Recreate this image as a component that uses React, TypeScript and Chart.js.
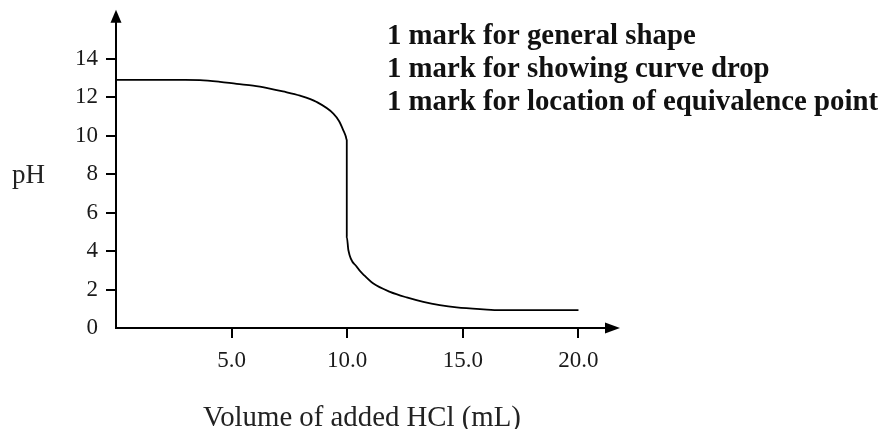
import React, { useEffect, useRef } from "react";
import { Chart, registerables } from "chart.js";

Chart.register(...registerables);

const volumes = [0, 3.0, 3.63, 4.5, 5.22, 5.93, 6.6, 7.22, 7.96, 8.68, 9.4, 9.65, 9.83, 9.94, 9.98, 9.98, 10.05, 10.41, 10.75, 11.13, 11.85, 12.57, 13.29, 14.0, 14.73, 15.89, 16.6, 18.5, 20];
const phValues = [12.9, 12.9, 12.89, 12.8, 12.69, 12.6, 12.46, 12.3, 12.08, 11.75, 11.15, 10.75, 10.28, 9.95, 9.76, 4.74, 4.04, 3.18, 2.72, 2.31, 1.88, 1.59, 1.36, 1.19, 1.07, 0.97, 0.93, 0.93, 0.93];

const xTickValues = [5, 10, 15, 20];
const yTickValues = [0, 2, 4, 6, 8, 10, 12, 14];
const notes = [
  "1 mark for general shape",
  "1 mark for showing curve drop",
  "1 mark for location of equivalence point",
];
const xTitle = "Volume of added HCl (mL)";
const yTitle = "pH";

const FONT = "'Liberation Serif', 'Times New Roman', serif";

const overlay = {
  id: "overlay",
  afterDraw(chart: any) {
    const { ctx, chartArea } = chart;
    ctx.save();
    ctx.fillStyle = "#000";
    // y-axis arrow
    const ax = chartArea.left;
    ctx.beginPath();
    ctx.moveTo(ax, chartArea.top - 12);
    ctx.lineTo(ax - 5.5, chartArea.top + 1);
    ctx.lineTo(ax + 5.5, chartArea.top + 1);
    ctx.closePath();
    ctx.fill();
    // x-axis arrow
    const ay = chartArea.bottom;
    ctx.beginPath();
    ctx.moveTo(chartArea.right + 14, ay);
    ctx.lineTo(chartArea.right - 1, ay - 5.5);
    ctx.lineTo(chartArea.right - 1, ay + 5.5);
    ctx.closePath();
    ctx.fill();

    // notes
    ctx.fillStyle = "#111";
    ctx.textBaseline = "alphabetic";
    ctx.textAlign = "left";
    ctx.font = `bold 28.8px ${FONT}`;
    notes.forEach((t, i) => {
      ctx.fillText(t, 387, 43.5 + i * 33.4);
    });

    // axis titles
    ctx.fillStyle = "#222";
    ctx.font = `27px ${FONT}`;
    ctx.fillText(yTitle, 12, 183);
    ctx.font = `28.8px ${FONT}`;
    ctx.textAlign = "center";
    ctx.fillText(xTitle, 362, 426);
    ctx.restore();
  },
};

export default function App() {
  const ref = useRef<HTMLCanvasElement | null>(null);
  useEffect(() => {
    if (!ref.current) return;
    const chart = new Chart(ref.current, {
      type: "line",
      data: {
        datasets: [
          {
            data: volumes.map((v, i) => ({ x: v, y: phValues[i] })),
            borderColor: "#000",
            borderWidth: 1.8,
            pointRadius: 0,
            cubicInterpolationMode: "monotone",
            fill: false,
          },
        ],
      },
      options: {
        animation: false,
        responsive: false,
        devicePixelRatio: 1,
        layout: { padding: { top: 21, right: 884 - 606, left: 0, bottom: 0 } },
        plugins: { legend: { display: false }, tooltip: { enabled: false }, title: { display: false } },
        scales: {
          x: {
            type: "linear",
            min: 0,
            max: 21.19,
            afterBuildTicks: (s: any) => {
              s.ticks = xTickValues.map((v) => ({ value: v }));
            },
            afterFit: (s: any) => {
              s.height = 429 - 328;
            },
            border: { display: true, color: "#000", width: 2 },
            grid: { drawOnChartArea: false, drawTicks: true, tickLength: 10, color: "#000", lineWidth: 2 },
            ticks: {
              padding: 9,
              color: "#1a1a1a",
              font: { family: FONT, size: 23 },
              maxRotation: 0,
              autoSkip: false,
              callback: (v: any) => Number(v).toFixed(1),
            },
          },
          y: {
            type: "linear",
            min: 0,
            max: 15.92,
            afterBuildTicks: (s: any) => {
              s.ticks = yTickValues.map((v) => ({ value: v }));
            },
            afterFit: (s: any) => {
              s.width = 116;
            },
            border: { display: true, color: "#000", width: 2 },
            grid: {
              drawOnChartArea: false,
              drawTicks: true,
              tickLength: 10,
              lineWidth: 2,
              color: (c: any) => (c.tick && c.tick.value === 0 ? "rgba(0,0,0,0)" : "#000"),
            },
            ticks: {
              padding: 8,
              color: "#1a1a1a",
              font: { family: FONT, size: 23 },
              autoSkip: false,
              callback: (v: any) => String(v),
            },
          },
        },
      },
      plugins: [overlay],
    } as any);
    return () => chart.destroy();
  }, []);
  return (
    <div style={{ position: "fixed", left: 0, top: 0, width: 884, height: 429, background: "#fff" }}>
      <canvas ref={ref} width={884} height={429} style={{ display: "block" }} />
    </div>
  );
}
